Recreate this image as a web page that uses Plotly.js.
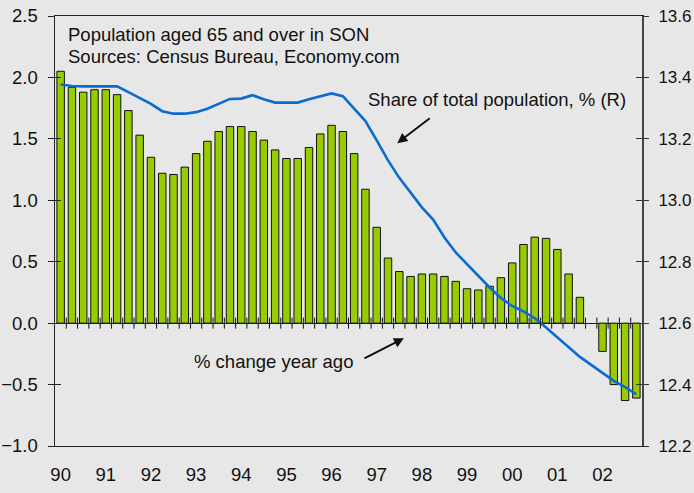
<!DOCTYPE html>
<html>
<head>
<meta charset="utf-8">
<script src="https://cdn.plot.ly/plotly-3.0.1.min.js"></script>
<style>html,body{margin:0;padding:0;background:#e7e7e7;}#chart{width:694px;height:493px;}</style>
</head>
<body>
<div id="chart"></div>
<script>
// Quarterly data, 1990Q1 .. 2002Q4
const yearLabels = ['90','91','92','93','94','95','96','97','98','99','00','01','02'];
const pctChange = [
  2.05, 1.92, 1.88, 1.90, 1.90, 1.86, 1.73, 1.53,
  1.35, 1.22, 1.21, 1.27, 1.38, 1.48, 1.56, 1.60,
  1.60, 1.56, 1.49, 1.41, 1.34, 1.34, 1.43, 1.54,
  1.61, 1.56, 1.38, 1.09, 0.78, 0.53, 0.42, 0.38,
  0.40, 0.40, 0.38, 0.34, 0.28, 0.27, 0.30, 0.37,
  0.49, 0.64, 0.70, 0.69, 0.60, 0.40, 0.21, null,
  -0.23, -0.50, -0.63, -0.61
];
const shareTotal = [
  13.377, 13.372, 13.371, 13.371, 13.371, 13.371, 13.352, 13.333,
  13.314, 13.290, 13.282, 13.282, 13.287, 13.298, 13.315, 13.330,
  13.331, 13.342, 13.329, 13.318, 13.318, 13.318, 13.329, 13.339,
  13.348, 13.339, 13.298, 13.258, 13.195, 13.130, 13.073, 13.023,
  12.977, 12.937, 12.879, 12.830, 12.792, 12.754, 12.716, 12.682,
  12.656, 12.638, 12.616, 12.586, 12.553, 12.520, 12.490, 12.464,
  12.437, 12.412, 12.392, 12.368
];

const nQ = pctChange.length;
const qIdx = pctChange.map((_, i) => i);
const yearTickVals = yearLabels.map((_, i) => i * 4);

const fontFam = 'Liberation Sans, Arial, sans-serif';
const fs = 18.5;

const traces = [
  {
    type: 'bar', x: qIdx, y: pctChange, width: 0.66,
    marker: {color: '#99cc00', line: {color: '#111111', width: 1}},
    hoverinfo: 'skip', showlegend: false
  },
  {
    type: 'scatter', mode: 'lines', x: qIdx, y: shareTotal, yaxis: 'y2',
    line: {color: '#0a6bd1', width: 2.6},
    hoverinfo: 'skip', showlegend: false
  },
  // helper traces so that inner-tick axes get drawn
  {type: 'scatter', mode: 'markers', x: [0], y: [0], yaxis: 'y3', marker: {opacity: 0}, hoverinfo: 'skip', showlegend: false},
  {type: 'scatter', mode: 'markers', x: [0], y: [12.6], yaxis: 'y4', marker: {opacity: 0}, hoverinfo: 'skip', showlegend: false}
];

// quarter tick marks crossing the zero line
const shapes = [];
for (let k = 0; k < nQ - 1; k++) {
  shapes.push({
    type: 'line', xref: 'x', yref: 'y',
    x0: k + 0.5, x1: k + 0.5, y0: -0.045, y1: 0.045,
    line: {color: '#111111', width: 1}, layer: 'above'
  });
}

const annotations = [
  {xref: 'x', yref: 'y', x: 0.47, y: 2.352, xanchor: 'left', yanchor: 'middle', showarrow: false,
   text: 'Population aged 65 and over in SON', font: {family: fontFam, size: fs, color: '#111'}},
  {xref: 'x', yref: 'y', x: 0.47, y: 2.172, xanchor: 'left', yanchor: 'middle', showarrow: false,
   text: 'Sources: Census Bureau, Economy.com', font: {family: fontFam, size: fs, color: '#111'}},
  {xref: 'x', yref: 'y', x: 27.05, y: 1.821, xanchor: 'left', yanchor: 'middle', showarrow: false,
   text: 'Share of total population, % (R)', font: {family: fontFam, size: fs, color: '#111'}},
  {xref: 'x', yref: 'y', x: 11.63, y: -0.31, xanchor: 'left', yanchor: 'middle', showarrow: false,
   text: '% change year ago', font: {family: fontFam, size: fs, color: '#111'}},
  {xref: 'x', yref: 'y', x: 29.82, y: 1.465, ax: 34, ay: -26, text: '', showarrow: true,
   arrowhead: 2, arrowsize: 1, arrowwidth: 2, arrowcolor: '#111', standoff: 0},
  {xref: 'x', yref: 'y', x: 30.41, y: -0.122, ax: -41, ay: 21, text: '', showarrow: true,
   arrowhead: 2, arrowsize: 1, arrowwidth: 2, arrowcolor: '#111', standoff: 0}
];

const layout = {
  width: 694, height: 493,
  margin: {l: 55, r: 52, t: 16, b: 47, pad: 0},
  paper_bgcolor: '#e7e7e7', plot_bgcolor: '#e7e7e7',
  font: {family: fontFam, size: fs, color: '#111'},
  bargap: 0.34,
  showlegend: false,
  xaxis: {
    range: [-0.5, nQ - 0.5], tickmode: 'array', tickvals: yearTickVals, ticktext: yearLabels,
    ticks: '', showgrid: false, zeroline: false,
    showline: true, linecolor: '#222', linewidth: 1, mirror: true,
    ticklabelstandoff: 12, tickfont: {family: fontFam, size: fs, color: '#111'}
  },
  yaxis: {
    range: [-1, 2.5], dtick: 0.5, tick0: 0, tickformat: '.1f',
    ticks: 'outside', ticklen: 6, tickcolor: '#222', tickwidth: 1,
    showgrid: false, zeroline: true, zerolinecolor: '#111', zerolinewidth: 1,
    showline: true, linecolor: '#222', linewidth: 1.5,
    ticklabelstandoff: 6, tickfont: {family: fontFam, size: fs, color: '#111'}
  },
  yaxis2: {
    overlaying: 'y', side: 'right', range: [12.2, 13.6], dtick: 0.2, tick0: 12.2, tickformat: '.1f',
    ticks: 'outside', ticklen: 5, tickcolor: '#333', tickwidth: 1,
    showgrid: false, zeroline: false,
    showline: true, linecolor: '#444', linewidth: 2,
    ticklabelstandoff: 6, tickfont: {family: fontFam, size: 17, color: '#111'}
  },
  yaxis3: {
    overlaying: 'y', side: 'left', range: [-1, 2.5], dtick: 0.5, tick0: 0,
    ticks: 'inside', ticklen: 6, tickcolor: '#222', tickwidth: 1,
    showticklabels: false, showgrid: false, zeroline: false, showline: false
  },
  yaxis4: {
    overlaying: 'y', side: 'right', range: [12.2, 13.6], dtick: 0.2, tick0: 12.2,
    ticks: 'inside', ticklen: 6, tickcolor: '#333', tickwidth: 1,
    showticklabels: false, showgrid: false, zeroline: false, showline: false
  },
  shapes: shapes,
  annotations: annotations
};

Plotly.newPlot('chart', traces, layout, {staticPlot: true, displayModeBar: false});
</script>
</body>
</html>
